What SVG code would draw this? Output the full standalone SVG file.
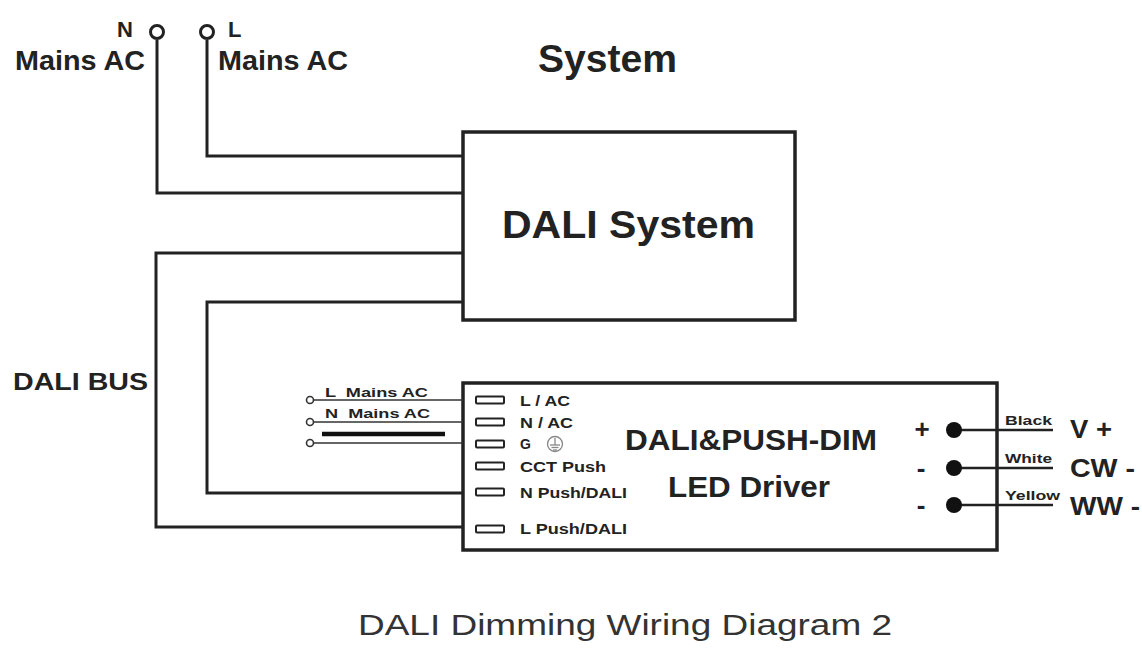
<svg xmlns="http://www.w3.org/2000/svg" width="1142" height="651" viewBox="0 0 1142 651">
<style>
.b{font-family:"Liberation Sans",Arial,sans-serif;font-weight:bold;fill:#222}
.r{font-family:"Liberation Sans",Arial,sans-serif;fill:#333}
.w{fill:none;stroke:#222;stroke-width:3;stroke-linejoin:miter}
.t{fill:none;stroke:#333;stroke-width:1.6}
.o{fill:none;stroke:#222;stroke-width:2.6}
.box{fill:#fff;stroke:#222;stroke-width:3.5}
.term{fill:#fff;stroke:#222;stroke-width:2}
</style>
<rect width="1142" height="651" fill="#fff"/>

<g id="dali-system">
  <rect class="box" x="463" y="132" width="332" height="188"/>
  <text class="b" x="502" y="238" font-size="39" textLength="253" lengthAdjust="spacingAndGlyphs">DALI System</text>
</g>

<g id="led-driver">
  <rect class="box" x="463" y="383" width="534" height="167"/>
  <rect class="term" x="476" y="396.5" width="28" height="7" rx="1"/>
  <rect class="term" x="476" y="418.5" width="28" height="7" rx="1"/>
  <rect class="term" x="476" y="440.5" width="28" height="7" rx="1"/>
  <rect class="term" x="476" y="462.5" width="28" height="7" rx="1"/>
  <rect class="term" x="476" y="488.5" width="28" height="7" rx="1"/>
  <rect class="term" x="476" y="525.5" width="28" height="7" rx="1"/>
  <text class="b" x="520" y="406" font-size="14" textLength="50" lengthAdjust="spacingAndGlyphs">L / AC</text>
  <text class="b" x="520" y="428" font-size="14" textLength="53" lengthAdjust="spacingAndGlyphs">N / AC</text>
  <text class="b" x="520" y="449" font-size="14">G</text>
  <g fill="none" stroke="#888" stroke-width="1.3">
    <circle cx="555" cy="444" r="7.5"/>
    <line x1="555" y1="438" x2="555" y2="445"/>
    <line x1="550" y1="445" x2="560" y2="445"/>
    <line x1="551.5" y1="447.5" x2="558.5" y2="447.5"/>
    <line x1="553" y1="450" x2="557" y2="450"/>
  </g>
  <text class="b" x="520" y="472" font-size="14" textLength="86" lengthAdjust="spacingAndGlyphs">CCT Push</text>
  <text class="b" x="520" y="498" font-size="14" textLength="107" lengthAdjust="spacingAndGlyphs">N Push/DALI</text>
  <text class="b" x="520" y="534" font-size="14" textLength="107" lengthAdjust="spacingAndGlyphs">L Push/DALI</text>
  <text class="b" x="625" y="450" font-size="30" textLength="252" lengthAdjust="spacingAndGlyphs">DALI&amp;PUSH-DIM</text>
  <text class="b" x="668" y="497" font-size="30" textLength="162" lengthAdjust="spacingAndGlyphs">LED Driver</text>
  <text class="b" x="922" y="438" font-size="26" text-anchor="middle">+</text>
  <text class="b" x="921" y="477" font-size="26" text-anchor="middle">-</text>
  <text class="b" x="921" y="514" font-size="26" text-anchor="middle">-</text>
</g>

<g id="connectors">
  <polyline class="w" points="157,40 157,193 463,193"/>
  <polyline class="w" points="207,40 207,156 463,156"/>
  <polyline class="w" points="463,253 156,253 156,527 463,527"/>
  <polyline class="w" points="463,302 207,302 207,493 463,493"/>
  <line class="t" x1="313" y1="400" x2="463" y2="400"/>
  <line class="t" x1="313" y1="422" x2="463" y2="422"/>
  <line class="t" x1="313" y1="443" x2="463" y2="443"/>
  <line x1="322" y1="434" x2="445" y2="434" stroke="#111" stroke-width="4.5"/>
  <line class="o" x1="954" y1="430" x2="1053" y2="430"/>
  <line class="o" x1="954" y1="468" x2="1053" y2="468"/>
  <line class="o" x1="954" y1="505" x2="1053" y2="505"/>
</g>

<g id="mains-n">
  <circle cx="157" cy="32" r="6.5" fill="#fff" stroke="#222" stroke-width="3"/>
  <text class="b" x="117" y="37" font-size="22">N</text>
  <text class="b" x="15" y="70" font-size="27" textLength="130" lengthAdjust="spacingAndGlyphs">Mains AC</text>
</g>
<g id="mains-l">
  <circle cx="207" cy="32" r="6.5" fill="#fff" stroke="#222" stroke-width="3"/>
  <text class="b" x="228" y="37" font-size="22">L</text>
  <text class="b" x="218" y="70" font-size="27" textLength="130" lengthAdjust="spacingAndGlyphs">Mains AC</text>
</g>

<g id="title">
  <text class="b" x="538" y="72" font-size="38" textLength="139" lengthAdjust="spacingAndGlyphs">System</text>
</g>

<g id="dali-bus">
  <text class="b" x="13" y="390" font-size="24" textLength="135" lengthAdjust="spacingAndGlyphs">DALI BUS</text>
</g>

<g id="input-wires">
  <circle cx="310" cy="400" r="3.5" fill="#fff" stroke="#333" stroke-width="1.6"/>
  <circle cx="310" cy="422" r="3.5" fill="#fff" stroke="#333" stroke-width="1.6"/>
  <circle cx="310" cy="443" r="3.5" fill="#fff" stroke="#333" stroke-width="1.6"/>
  <text class="b" x="325" y="397" font-size="13" textLength="103" lengthAdjust="spacingAndGlyphs" xml:space="preserve">L  Mains AC</text>
  <text class="b" x="325" y="418" font-size="13" textLength="105" lengthAdjust="spacingAndGlyphs" xml:space="preserve">N  Mains AC</text>
</g>

<g id="outputs">
  <circle cx="954" cy="430" r="8" fill="#111"/>
  <circle cx="954" cy="468" r="8" fill="#111"/>
  <circle cx="954" cy="505" r="8" fill="#111"/>
  <text class="b" x="1005" y="425" font-size="13" textLength="47" lengthAdjust="spacingAndGlyphs">Black</text>
  <text class="b" x="1005" y="463" font-size="13" textLength="47" lengthAdjust="spacingAndGlyphs">White</text>
  <text class="b" x="1005" y="500" font-size="13" textLength="55" lengthAdjust="spacingAndGlyphs">Yellow</text>
  <text class="b" x="1070" y="438" font-size="25" textLength="42" lengthAdjust="spacingAndGlyphs">V +</text>
  <text class="b" x="1070" y="477" font-size="25" textLength="65" lengthAdjust="spacingAndGlyphs">CW -</text>
  <text class="b" x="1070" y="515" font-size="25" textLength="70" lengthAdjust="spacingAndGlyphs">WW -</text>
</g>

<g id="caption">
  <text class="r" x="358" y="635" font-size="30" textLength="534" lengthAdjust="spacingAndGlyphs">DALI Dimming Wiring Diagram 2</text>
</g>
</svg>
